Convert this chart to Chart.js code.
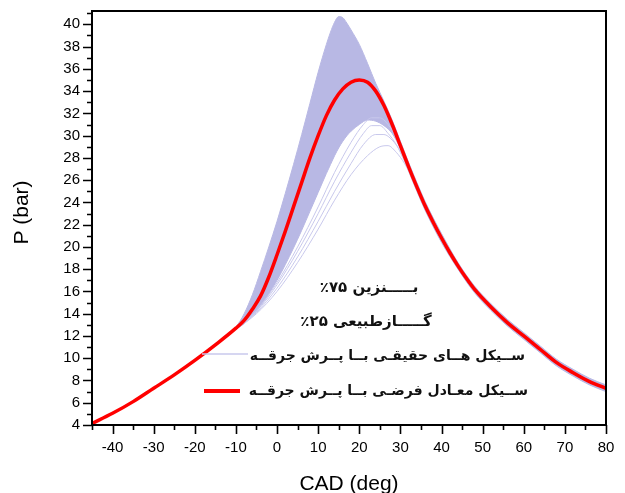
<!DOCTYPE html>
<html><head><meta charset="utf-8">
<script src="https://cdn.jsdelivr.net/npm/chart.js@4/dist/chart.umd.min.js"></script>
<style>html,body{margin:0;padding:0;background:#fff}#wrap{width:625px;height:493px;position:relative}</style>
</head><body><div id="wrap"><canvas id="c" width="625" height="493"></canvas></div>
<script>
// ---- text ----
const xTitle = 'CAD (deg)';
const yTitle = 'P (bar)';
const noteLine1 = 'بـــــنزین ۷۵٪';
const noteLine2 = 'گـــــازطبیعی ۲۵٪';
const seriesNames = ['ســیکل هــای حقیقـی بــا پــرش جرقــه', 'ســیکل معـادل فرضـی بــا پــرش جرقــه'];
// ---- tick labels ----
const xTickLabels = [-40, -30, -20, -10, 0, 10, 20, 30, 40, 50, 60, 70, 80];
const yTickLabels = [4, 6, 8, 10, 12, 14, 16, 18, 20, 22, 24, 26, 28, 30, 32, 34, 36, 38, 40];
// ---- mean (equivalent) cycle ----
const meanCad = [-45,-40,-35,-30,-25,-20,-15,-10,-8,-6,-4,-2,0,2,4,6,8,10,12,14,16,18,20,22,24,26,28,30,32,34,36,38,40,42,44,46,48,52,56,60,64,68,72,76,80];
const meanP   = [4.15,5.05,6.1,7.3,8.5,9.8,11.2,12.7,13.4,14.4,15.6,17.3,19.3,21.4,23.6,25.8,28.0,30.0,31.8,33.2,34.2,34.8,35.0,34.8,34.0,32.7,31.0,29.1,27.2,25.4,23.7,22.2,20.8,19.5,18.3,17.2,16.2,14.6,13.2,12.0,10.8,9.6,8.7,7.9,7.3];
// ---- envelope of the real cycles ----
const bandCad   = [-12,-10,-8,-6,-4,-2,0,2,4,6,8,10,12,13,14,15,16,17,18,20,22,24,26,28,30,32,34,36,38,40,44,48,52,56,60,64,68,72,76,80];
const bandUpper = [12.1,12.8,14.0,15.7,17.8,20.0,22.3,24.8,27.4,30.1,32.9,35.7,38.2,39.3,40.2,40.7,40.6,40.1,39.5,38.2,36.5,34.7,33.1,31.4,29.5,27.6,25.8,24.1,22.6,21.2,18.6,16.5,14.9,13.5,12.3,11.1,9.9,9.0,8.2,7.6];
const bandLower = [12.1,12.6,13.1,13.8,14.7,15.8,17.0,18.4,19.9,21.5,23.2,24.9,26.6,27.4,28.2,28.9,29.5,30.0,30.4,31.0,31.4,31.3,30.9,30.2,28.8,26.8,25.0,23.3,21.8,20.4,18.0,15.9,14.3,12.9,11.7,10.5,9.3,8.4,7.6,7.0];
// ---- individual low-peak real cycles ----
const low1Cad = [-10,-5,0,5,10,14,18,22,25,27,29,31,33,35];
const low1P   = [12.6,14.0,16.0,18.6,21.6,24.2,26.5,28.2,29.0,29.1,28.5,27.5,26.1,24.6];
const low2Cad = [-10,-5,0,5,10,14,18,21,24,26,28,30,32,34];
const low2P   = [12.6,14.1,16.3,19.1,22.3,25.0,27.5,29.2,30.1,30.1,29.6,28.6,27.1,25.4];
const low3Cad = [-10,-5,0,5,10,14,18,21,23,25,27,29,31,33];
const low3P   = [12.6,14.2,16.6,19.6,23.0,25.9,28.5,30.2,30.9,30.9,30.2,29.2,27.7,26.2];
const low4Cad = [-10,-5,0,5,10,14,18,21,23,25,27,29,31];
const low4P   = [12.6,14.3,16.8,20.0,23.6,26.7,29.4,31.0,31.6,31.6,31.0,29.9,28.2];

const pts = (xs, ys) => xs.map((v, i) => ({x: v, y: ys[i]}));
const BAND = 'rgb(184,184,228)';
const THIN = 'rgb(200,200,236)';
const AXF = '"Liberation Sans", Arial, sans-serif';
const FAF = '"DejaVu Sans", "Noto Sans", sans-serif';

const lowSets = [[low1Cad, low1P], [low2Cad, low2P], [low3Cad, low3P], [low4Cad, low4P]].map(([a, b]) => ({
  data: pts(a, b), borderColor: THIN, borderWidth: 1, pointRadius: 0, fill: false, cubicInterpolationMode: 'monotone'
}));

const decor = {
  id: 'decor',
  afterDraw(chart) {
    const {ctx, chartArea: ca, scales: {x, y}} = chart;
    ctx.save();
    ctx.strokeStyle = '#000'; ctx.lineWidth = 2;
    ctx.strokeRect(ca.left, ca.top, ca.right - ca.left, ca.bottom - ca.top);
    ctx.lineWidth = 1.6;
    ctx.beginPath();
    for (let v = x.min; v <= x.max + 1e-9; v += 5) {
      const px = Math.round(x.getPixelForValue(v)) + 0.5;
      const len = xTickLabels.includes(v) ? 9 : 5;
      ctx.moveTo(px, ca.bottom); ctx.lineTo(px, ca.bottom + len);
    }
    for (let v = Math.ceil(y.min); v <= y.max; v += 1) {
      const py = Math.round(y.getPixelForValue(v)) + 0.5;
      const len = yTickLabels.includes(v) ? 9 : 5;
      ctx.moveTo(ca.left, py); ctx.lineTo(ca.left - len, py);
    }
    ctx.stroke();
    ctx.fillStyle = '#000';
    ctx.font = '21px ' + AXF;
    ctx.textAlign = 'center'; ctx.textBaseline = 'alphabetic';
    ctx.fillText(xTitle, (ca.left + ca.right) / 2, 490);
    ctx.save();
    ctx.translate(28, 212.5); ctx.rotate(-Math.PI / 2);
    ctx.fillText(yTitle, 0, 0);
    ctx.restore();
    ctx.direction = 'rtl';
    ctx.font = 'bold 15px ' + FAF;
    ctx.textAlign = 'center'; ctx.textBaseline = 'middle';
    ctx.fillStyle = '#111';
    ctx.fillText(noteLine1, 369, 288);
    ctx.fillText(noteLine2, 366, 322);
    ctx.font = 'bold 14px ' + FAF;
    ctx.textAlign = 'right';
    ctx.fillText(seriesNames[0], 525, 356);
    ctx.fillText(seriesNames[1], 528, 391);
    ctx.strokeStyle = THIN; ctx.lineWidth = 1.5;
    ctx.beginPath(); ctx.moveTo(202, 354); ctx.lineTo(248, 354); ctx.stroke();
    ctx.strokeStyle = '#ff0000'; ctx.lineWidth = 4;
    ctx.beginPath(); ctx.moveTo(204, 391); ctx.lineTo(240, 391); ctx.stroke();
    ctx.restore();
  }
};

new Chart(document.getElementById('c'), {
  type: 'line',
  data: {
    datasets: [
      {label: seriesNames[1], data: pts(meanCad, meanP), borderColor: '#ff0000', borderWidth: 3.5, pointRadius: 0, fill: false, cubicInterpolationMode: 'monotone'},
      ...lowSets,
      {label: seriesNames[0], data: pts(bandCad, bandUpper), borderColor: BAND, backgroundColor: BAND, borderWidth: 1, pointRadius: 0, fill: '+1', cubicInterpolationMode: 'monotone'},
      {label: seriesNames[0], data: pts(bandCad, bandLower), borderColor: BAND, borderWidth: 1, pointRadius: 0, fill: false, cubicInterpolationMode: 'monotone'}
    ]
  },
  options: {
    responsive: false, animation: false, devicePixelRatio: 1,
    layout: {padding: {left: 0, top: 11, right: 19, bottom: 0}},
    plugins: {legend: {display: false}, tooltip: {enabled: false}},
    scales: {
      x: {
        type: 'linear', min: -45, max: 80,
        afterFit: s => { s.height = 68; s.paddingLeft = 0; s.paddingRight = 0; },
        grid: {display: false, drawTicks: false}, border: {display: false},
        ticks: {stepSize: 5, autoSkip: false, maxRotation: 0, padding: 14, color: '#000', font: {family: AXF, size: 15},
          callback: v => xTickLabels.includes(v) ? String(v) : ''}
      },
      y: {
        type: 'linear', min: 4, max: 41.2,
        afterFit: s => { s.width = 92; s.paddingTop = 0; s.paddingBottom = 0; },
        grid: {display: false, drawTicks: false}, border: {display: false},
        ticks: {stepSize: 1, autoSkip: false, padding: 12, color: '#000', font: {family: AXF, size: 15},
          callback: v => yTickLabels.includes(v) ? String(v) : ''}
      }
    }
  },
  plugins: [decor]
});
</script></body></html>
